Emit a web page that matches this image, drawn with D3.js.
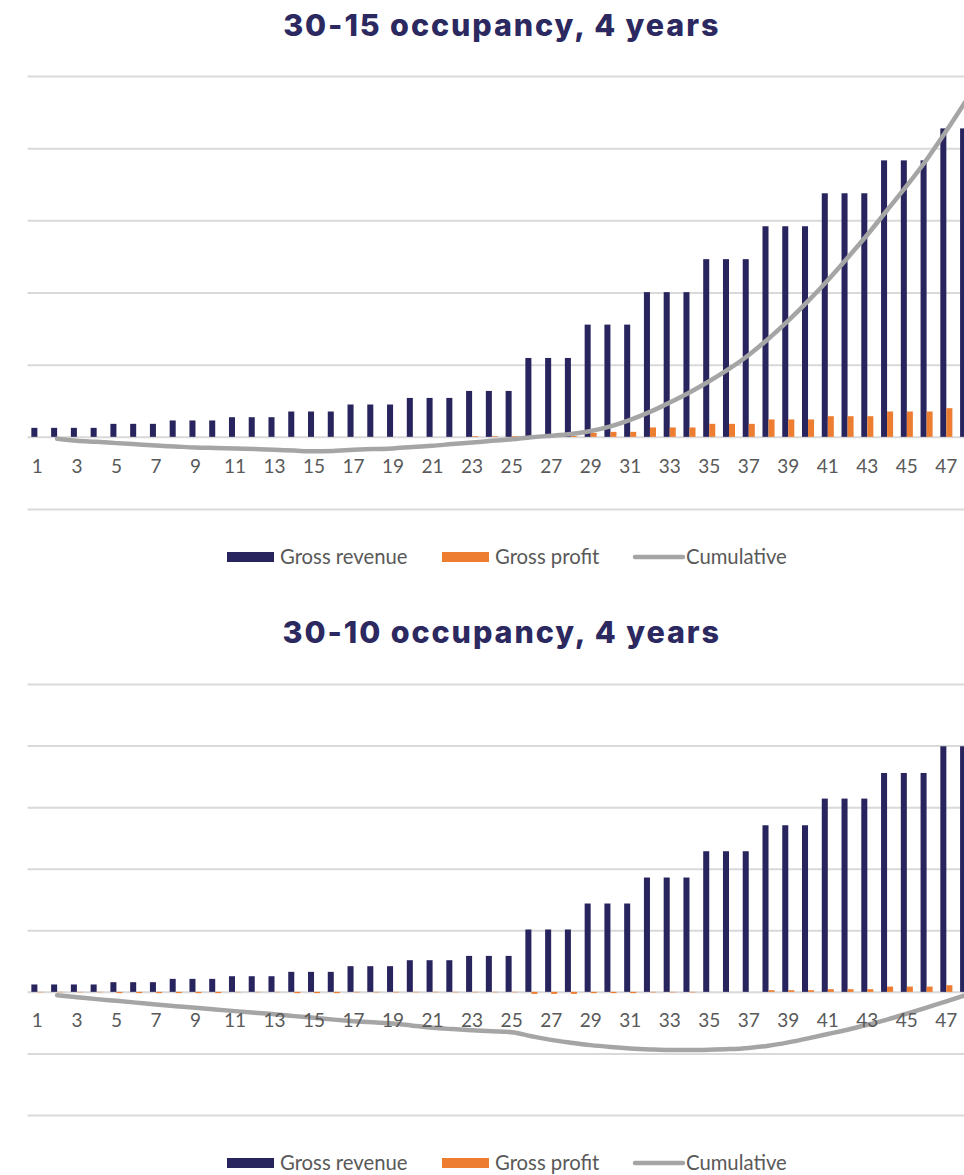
<!DOCTYPE html>
<html>
<head>
<meta charset="utf-8">
<script src="https://cdn.jsdelivr.net/npm/d3@7"></script>
<style>
  body { margin: 0; background: #fff; }
  svg { display: block; overflow: hidden; }
  .tick text { font-family: Lato, "Liberation Sans", sans-serif; }
</style>
</head>
<body>
<div id="chart-container"></div>
<script>
// categories: months 1..48
const months = [1,2,3,4,5,6,7,8,9,10,11,12,13,14,15,16,17,18,19,20,21,22,23,24,
  25,26,27,28,29,30,31,32,33,34,35,36,37,38,39,40,41,42,43,44,45,46,47,48];
const monthLabels = [1,3,5,7,9,11,13,15,17,19,21,23,25,27,29,31,33,35,37,39,41,43,45,47];

// 30-15 occupancy
const revenue15 = [1245,1245,1245,1245,1800,1800,1800,2270,2270,2270,2720,2720,2720,
  3510,3510,3510,4480,4480,4480,5390,5390,5390,6360,6360,6360,10930,10930,10930,
  15550,15550,15550,20050,20050,20050,24620,24620,24620,29180,29180,29180,
  33750,33750,33750,38310,38310,38310,42740,42740];
const profit15 = [0,0,0,0,0,0,0,0,0,0,0,0,0,0,0,0,0,0,0,0,0,0,100,100,100,120,120,120,
  550,690,690,1300,1300,1300,1800,1800,1800,2410,2410,2410,2860,2860,2860,
  3510,3510,3510,3970,3970];
const cumulative15 = [null,-277,-554,-692,-872,-1038,-1204,-1342,-1481,-1550,-1619,-1702,
  -1799,-1910,-2007,-1950,-1800,-1700,-1600,-1400,-1250,-1000,-800,-550,-350,-50,150,400,
  800,1450,2353,3450,4750,6150,7700,9400,11350,13600,16100,18800,21700,24800,28000,
  31400,34800,38400,42400,46600];
const grid15 = [-10000,0,10000,20000,30000,40000,50000];

// 30-10 occupancy
const revenue10 = [1200,1200,1200,1200,1570,1570,1570,2110,2110,2110,2540,2540,2540,
  3250,3250,3250,4170,4170,4170,5140,5140,5140,5840,5840,5840,10130,10130,10130,
  14350,14350,14350,18570,18570,18570,22840,22840,22840,27060,27060,27060,
  31390,31390,31390,35550,35550,35550,39880,39880];
const profit10 = [-60,-60,-60,-60,-200,-200,-200,-200,-200,-200,-60,-60,-60,-200,-200,-200,
  -80,-80,-80,-60,-60,-60,-60,-60,-60,-330,-330,-330,-200,-200,-200,-80,-80,-80,0,0,0,
  270,270,270,430,430,430,860,860,860,1080,1080];
const cumulative10 = [null,-540,-860,-1180,-1460,-1750,-2040,-2320,-2600,-2870,-3130,-3380,
  -3620,-3940,-4220,-4510,-4760,-4950,-5130,-5490,-5840,-6050,-6220,-6380,-6550,-7200,
  -7800,-8250,-8650,-8950,-9190,-9350,-9450,-9450,-9400,-9300,-9100,-8750,-8200,-7550,
  -6850,-6150,-5350,-4500,-3550,-2550,-1550,-500];
const grid10 = [-20000,-10000,0,10000,20000,30000,40000,50000];

const seriesNames = ["Gross revenue", "Gross profit", "Cumulative"];
const colors = {revenue: "#28245e", profit: "#ed7d31", cumulative: "#a5a5a5", title: "#2b2960", text: "#595959", grid: "#d9d9d9"};

const width = 964, height = 1175;
const plotLeft = 27.5, plotRight = 976;

const svg = d3.select("#chart-container")
  .append("svg")
    .attr("width", width)
    .attr("height", height);

function drawChart(opts) {
  const g = svg.append("g");

  // scales
  const x0 = d3.scaleBand()
    .domain(months)
    .range([plotLeft, plotRight])
    .paddingInner(0.39)
    .paddingOuter(0.195);
  const x1 = d3.scaleBand()
    .domain(["revenue", "profit"])
    .range([0, x0.bandwidth()]);
  const y = d3.scaleLinear()
    .domain(d3.extent(opts.grid))
    .range(opts.yRange);

  // title
  g.append("text")
    .attr("x", (plotLeft + plotRight) / 2)
    .attr("y", opts.titleY)
    .attr("text-anchor", "middle")
    .attr("font-family", "Inter, Lato, sans-serif")
    .attr("font-weight", 800)
    .attr("font-size", 30.5)
    .attr("letter-spacing", 1.9)
    .attr("fill", colors.title)
    .text(opts.title);

  // gridlines
  const gridAxis = g.append("g")
    .attr("transform", `translate(${plotLeft},0)`)
    .call(d3.axisLeft(y).tickValues(opts.grid).tickSize(-(plotRight - plotLeft)).tickFormat(""));
  gridAxis.select(".domain").remove();
  gridAxis.selectAll(".tick line").attr("stroke", colors.grid).attr("stroke-width", 2);

  // bars
  const groups = g.append("g").selectAll("g")
    .data(months.map((m, i) => ({month: m, revenue: opts.revenue[i], profit: opts.profit[i]})))
    .join("g")
      .attr("transform", d => `translate(${x0(d.month)},0)`);
  groups.selectAll("rect")
    .data(d => ["revenue", "profit"].map(k => ({key: k, value: d[k]})))
    .join("rect")
      .attr("x", d => x1(d.key))
      .attr("width", x1.bandwidth())
      .attr("y", d => y(Math.max(0, d.value)))
      .attr("height", d => Math.abs(y(d.value) - y(0)))
      .attr("fill", d => colors[d.key]);

  // cumulative line
  const line = d3.line()
    .defined(d => d.value !== null)
    .x(d => x0(d.month) + x0.bandwidth() / 2)
    .y(d => y(d.value))
    .curve(d3.curveMonotoneX);
  g.append("path")
    .datum(months.map((m, i) => ({month: m, value: opts.cumulative[i]})))
    .attr("fill", "none")
    .attr("stroke", colors.cumulative)
    .attr("stroke-width", 4.5)
    .attr("stroke-linecap", "round")
    .attr("stroke-linejoin", "round")
    .attr("d", line);

  // x labels at zero
  const xAxis = g.append("g")
    .attr("transform", `translate(0,${y(0)})`)
    .call(d3.axisBottom(x0).tickValues(monthLabels).tickSize(0).tickPadding(opts.labelPad));
  xAxis.select(".domain").remove();
  xAxis.selectAll(".tick text")
    .attr("font-size", 19)
    .attr("fill", colors.text);

  // legend
  const lg = g.append("g").attr("transform", `translate(0,${opts.legendY})`);
  const legendItems = [
    {label: seriesNames[0], type: "rect", color: colors.revenue, x: 227},
    {label: seriesNames[1], type: "rect", color: colors.profit, x: 442},
    {label: seriesNames[2], type: "line", color: colors.cumulative, x: 633}
  ];
  legendItems.forEach(item => {
    if (item.type === "rect") {
      lg.append("rect")
        .attr("x", item.x).attr("y", -5)
        .attr("width", 47).attr("height", 10)
        .attr("fill", item.color);
    } else {
      lg.append("line")
        .attr("x1", item.x + 2).attr("x2", item.x + 50)
        .attr("stroke", item.color)
        .attr("stroke-width", 4.5)
        .attr("stroke-linecap", "round");
    }
    lg.append("text")
      .attr("x", item.x + 53)
      .attr("y", 7)
      .attr("font-family", "Lato, sans-serif")
      .attr("font-size", 20.3)
      .attr("fill", colors.text)
      .text(item.label);
  });
}

drawChart({
  title: "30-15 occupancy, 4 years",
  titleY: 36,
  revenue: revenue15, profit: profit15, cumulative: cumulative15,
  grid: grid15, yRange: [509, 76],
  labelPad: 22.5, legendY: 557
});

drawChart({
  title: "30-10 occupancy, 4 years",
  titleY: 643,
  revenue: revenue10, profit: profit10, cumulative: cumulative10,
  grid: grid10, yRange: [1115, 684],
  labelPad: 22, legendY: 1163
});
</script>
</body>
</html>
